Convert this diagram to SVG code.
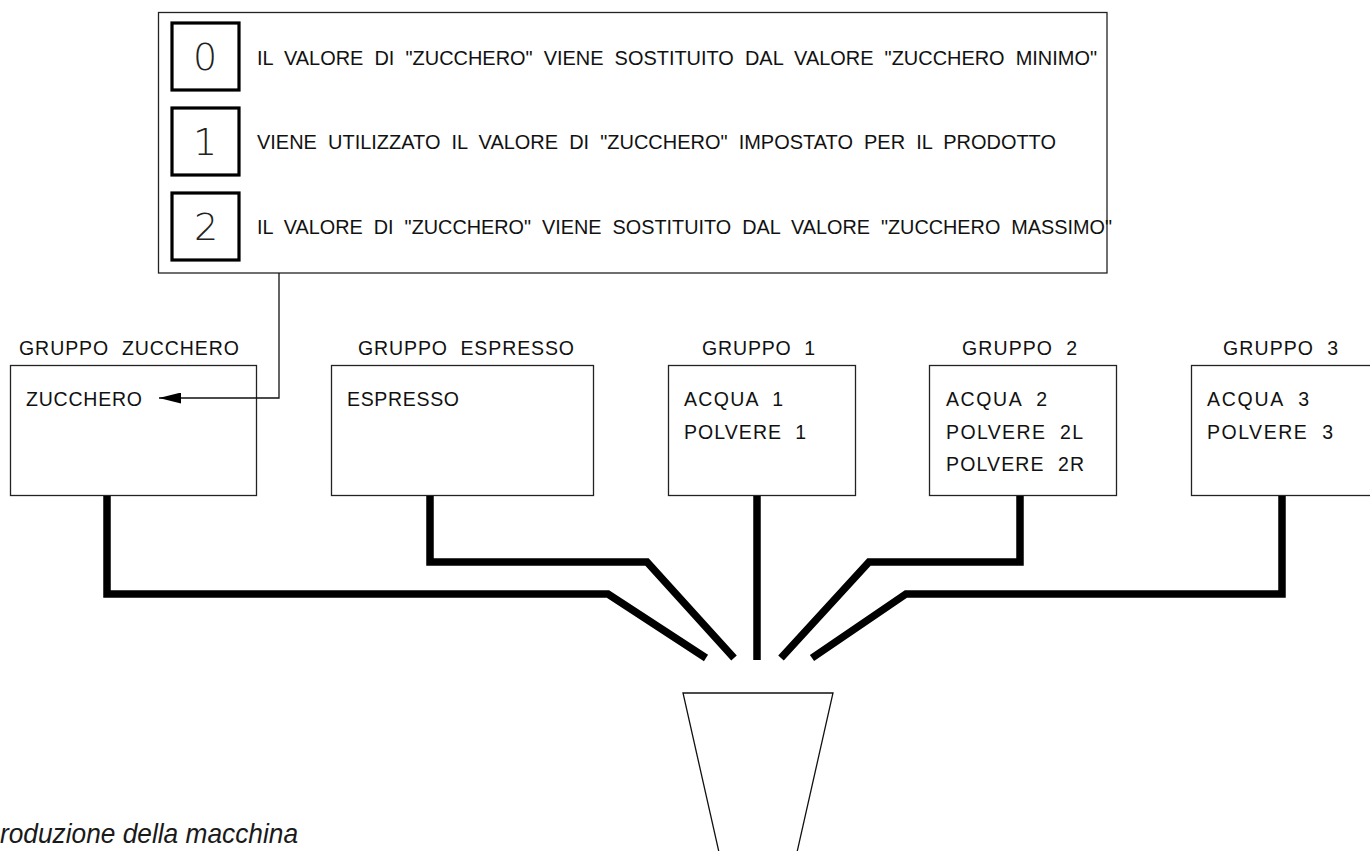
<svg xmlns="http://www.w3.org/2000/svg" width="1370" height="851" viewBox="0 0 1370 851">
<defs>
<style>
.bx{fill:#fff;stroke:#222;stroke-width:1.3}
.nb{fill:#fff;stroke:#000;stroke-width:3.2}
.t{font-family:"Liberation Sans",Arial,sans-serif;font-size:19.5px;fill:#111;white-space:pre}
.lt{font-family:"Liberation Sans",Arial,sans-serif;font-size:20px;fill:#111;white-space:pre}
.dg{font-family:"DejaVu Sans","Liberation Sans",sans-serif;font-weight:200;font-size:38px;fill:#222;text-anchor:middle}
.pipe{fill:none;stroke:#000;stroke-width:7.5;stroke-linejoin:miter;stroke-linecap:butt}
.thin{fill:none;stroke:#111;stroke-width:1.3}
.cap{font-family:"Liberation Sans",Arial,sans-serif;font-style:italic;font-size:28px;fill:#1a1a1a}
</style>
<marker id="ah" markerWidth="23" markerHeight="11" refX="22" refY="5.5" orient="auto" markerUnits="userSpaceOnUse">
<path d="M0,0 L22,5.5 L0,11 Z" fill="#000"/>
</marker>
</defs>
<rect width="1370" height="851" fill="#fff"/>

<g id="legend">
<rect class="bx" x="158.5" y="12.5" width="948.5" height="260.5" stroke="#555" stroke-width="1.5"/>
<rect class="nb" x="172" y="23" width="67" height="67"/>
<rect class="nb" x="172" y="108" width="67" height="67"/>
<rect class="nb" x="172" y="193" width="67" height="67"/>
<text class="dg" x="205" y="70">0</text>
<text class="dg" x="205" y="155">1</text>
<text class="dg" x="206" y="240">2</text>
<text class="lt" x="257" y="65" textLength="840" lengthAdjust="spacingAndGlyphs">IL  VALORE  DI  "ZUCCHERO"  VIENE  SOSTITUITO  DAL  VALORE  "ZUCCHERO  MINIMO"</text>
<text class="lt" x="257" y="149" textLength="799" lengthAdjust="spacingAndGlyphs">VIENE  UTILIZZATO  IL  VALORE  DI  "ZUCCHERO"  IMPOSTATO  PER  IL  PRODOTTO</text>
<text class="lt" x="257" y="234" textLength="855" lengthAdjust="spacingAndGlyphs">IL  VALORE  DI  "ZUCCHERO"  VIENE  SOSTITUITO  DAL  VALORE  "ZUCCHERO  MASSIMO"</text>
</g>

<g id="gruppo-zucchero">
<text class="t" x="19" y="355" textLength="220" lengthAdjust="spacing">GRUPPO  ZUCCHERO</text>
<rect class="bx" x="10.5" y="365.5" width="246" height="130"/>
<text class="t" x="26" y="406" textLength="116" lengthAdjust="spacing">ZUCCHERO</text>
</g>

<g id="gruppo-espresso">
<text class="t" x="358" y="355" textLength="216" lengthAdjust="spacing">GRUPPO  ESPRESSO</text>
<rect class="bx" x="331.5" y="365.5" width="262" height="130"/>
<text class="t" x="347" y="406" textLength="112" lengthAdjust="spacing">ESPRESSO</text>
</g>

<g id="gruppo-1">
<text class="t" x="702" y="355" textLength="113" lengthAdjust="spacing">GRUPPO  1</text>
<rect class="bx" x="668.5" y="365.5" width="187" height="130"/>
<text class="t" x="684" y="406" textLength="99" lengthAdjust="spacing">ACQUA  1</text>
<text class="t" x="684" y="439" textLength="122" lengthAdjust="spacing">POLVERE  1</text>
</g>

<g id="gruppo-2">
<text class="t" x="962" y="355" textLength="115" lengthAdjust="spacing">GRUPPO  2</text>
<rect class="bx" x="929.5" y="365.5" width="187" height="130"/>
<text class="t" x="946" y="406" textLength="101" lengthAdjust="spacing">ACQUA  2</text>
<text class="t" x="946" y="439" textLength="137" lengthAdjust="spacing">POLVERE  2L</text>
<text class="t" x="946" y="471" textLength="138" lengthAdjust="spacing">POLVERE  2R</text>
</g>

<g id="gruppo-3">
<text class="t" x="1223" y="355" textLength="115" lengthAdjust="spacing">GRUPPO  3</text>
<rect class="bx" x="1191.5" y="365.5" width="190" height="130"/>
<text class="t" x="1207" y="406" textLength="102" lengthAdjust="spacing">ACQUA  3</text>
<text class="t" x="1207" y="439" textLength="126" lengthAdjust="spacing">POLVERE  3</text>
</g>

<g id="cup">
<polyline class="thin" points="723,870 683,693 833,693 793,870"/>
</g>

<g id="connectors">
<polyline class="thin" points="279,273 279,398 159,398" marker-end="url(#ah)"/>
<polyline class="pipe" points="107,496 107,594 608,594 706,658"/>
<polyline class="pipe" points="430,496 430,562 647,562 734,658"/>
<polyline class="pipe" points="757,496 757,660"/>
<polyline class="pipe" points="1020,496 1020,562 869,562 781,658"/>
<polyline class="pipe" points="1282,496 1282,594 906,594 812,658"/>
</g>

<text class="cap" x="0" y="843" textLength="298" lengthAdjust="spacingAndGlyphs">roduzione della macchina</text>
</svg>
